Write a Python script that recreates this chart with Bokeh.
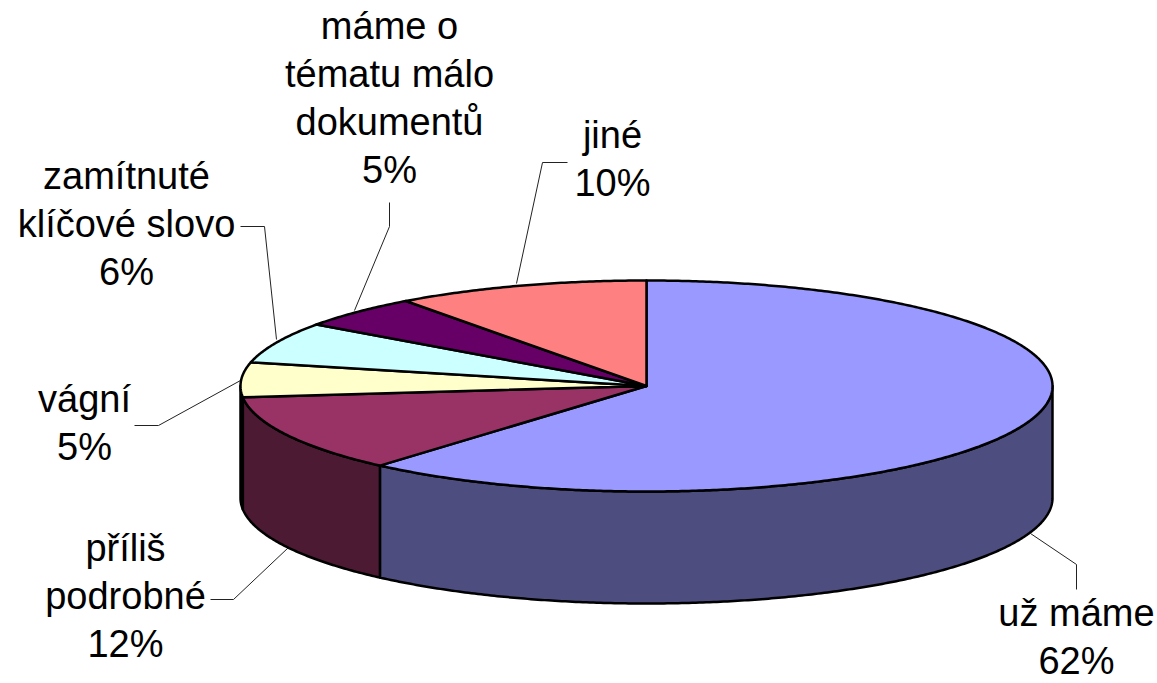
import math
from bokeh.plotting import figure
from bokeh.models import Range1d
from bokeh.core.properties import value
from bokeh.embed import file_html
from bokeh.resources import INLINE

# --- data ---
categories = ["už máme", "příliš podrobné", "vágní", "zamítnuté klíčové slovo",
              "máme o tématu málo dokumentů", "jiné"]
shares = [61.4, 11.9, 5.3, 6.3, 5.0, 10.1]      # drawn share of each slice, clockwise from 12 o'clock
percent_labels = ["62%", "12%", "5%", "6%", "5%", "10%"]

# --- styles ---
top_colors = ["#9999FF", "#993366", "#FFFFCC", "#CCFFFF", "#660066", "#FF8080"]
wall_colors = ["#4D4D80", "#4D1A33", "#80806A", "#668080", "#330033", "#804040"]
FONT_PX = 38
LINE_PX = 48
BASELINE_SHIFT = -15

# --- layout, in page pixels ---
WIDTH, HEIGHT = 1157, 683
CX, CY, RX, RY, DEPTH = 646.0, 385.5, 406.0, 105.5, 112.0

label_lines = [
    ["už máme"], ["příliš", "podrobné"], ["vágní"], ["zamítnuté", "klíčové slovo"],
    ["máme o", "tématu málo", "dokumentů"], ["jiné"],
]
label_anchor = [(1076, 627), (125, 562), (84, 413), (126, 190), (389, 40), (612, 149)]
leaders = [
    [(1030, 533), (1076, 564), (1076, 589)],
    [(288, 547), (233, 599), (210, 599)],
    [(240, 380), (158, 425), (134, 425)],
    [(276, 339), (264, 226), (240, 226)],
    [(354, 310), (389, 226), (389, 202)],
    [(516, 283), (542, 162), (567, 162)],
]


def rim(theta_deg, drop=0.0):
    t = math.radians(theta_deg)
    return CX + RX * math.sin(t), CY - RY * math.cos(t) + drop


def arc(a, b, drop=0.0):
    n = max(2, int(abs(b - a) * 2))
    return [rim(a + (b - a) * i / n, drop) for i in range(n + 1)]


p = figure(width=WIDTH, height=HEIGHT, toolbar_location=None, output_backend="svg",
           x_range=Range1d(0, WIDTH), y_range=Range1d(HEIGHT, 0),
           min_border=0, outline_line_color=None)
p.xaxis.visible = False
p.yaxis.visible = False
p.grid.visible = False

# angle limits of every slice
total = sum(shares)
starts, ends = [], []
acc = 0.0
for s in shares:
    starts.append(acc / total * 360)
    acc += s
    ends.append(acc / total * 360)

# leader lines
for pts in leaders:
    p.line([q[0] for q in pts], [q[1] for q in pts], line_color="#222222", line_width=1)

# outer walls: only the front half of the disc (90..270 degrees) shows
for a, b, c in zip(starts, ends, wall_colors):
    lo, hi = max(a, 90), min(b, 270)
    if hi <= lo:
        continue
    pts = arc(lo, hi) + arc(hi, lo, DEPTH)
    p.patch([q[0] for q in pts], [q[1] for q in pts], fill_color=c,
            line_color="black", line_width=2.5, line_join="round")

# top faces
for a, b, c in zip(starts, ends, top_colors):
    pts = [(CX, CY)] + arc(a, b)
    p.patch([q[0] for q in pts], [q[1] for q in pts], fill_color=c,
            line_color="black", line_width=2.5, line_join="round")

# labels
for lines, pct, (ax, ay) in zip(label_lines, percent_labels, label_anchor):
    rows = lines + [pct]
    p.text([ax] * len(rows), [ay + BASELINE_SHIFT + i * LINE_PX for i in range(len(rows))], text=rows,
           text_font=value("Liberation Sans"), text_font_size=f"{FONT_PX}px",
           text_color="black", text_align="center", text_baseline="alphabetic")

open("out.html", "w").write(file_html(p, INLINE))
